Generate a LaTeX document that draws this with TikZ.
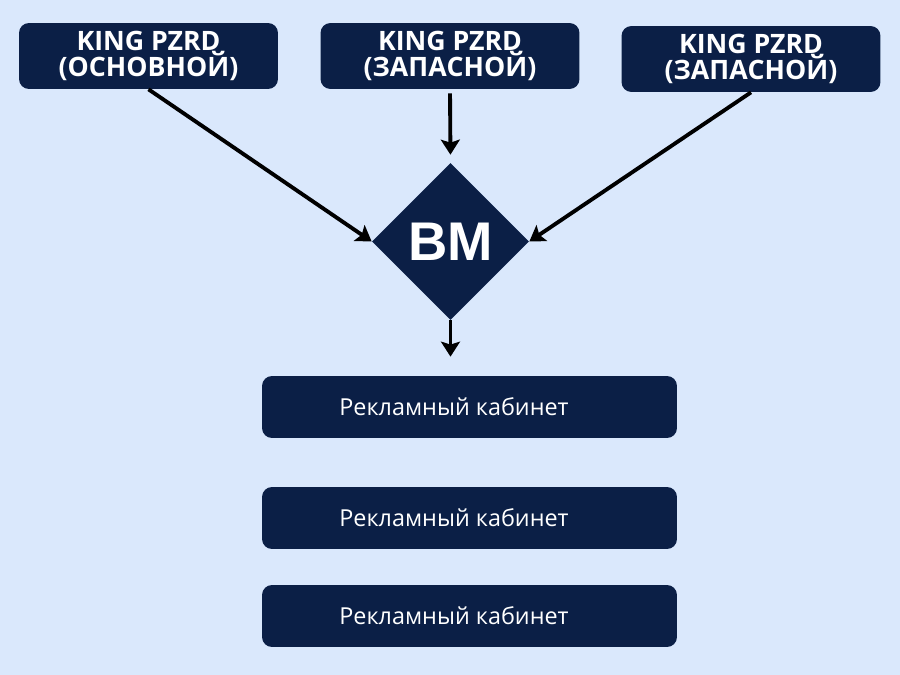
\documentclass[tikz,border=0pt]{standalone}
\usepackage{fontspec}
\setmainfont{Open Sans}
\newfontfamily\bmfont{Liberation Sans}
\usetikzlibrary{arrows.meta,shapes.geometric}
\definecolor{bgblue}{HTML}{DAE8FC}
\definecolor{navy}{HTML}{0B1F46}

\begin{document}
\begin{tikzpicture}[x=0.02cm,y=-0.02cm,
    kingbox/.style={fill=navy,rounded corners=0.2cm,minimum width=5.18cm,
      minimum height=1.32cm,inner sep=0pt,align=center,text=white,
      font=\bfseries\fontsize{15.2}{14.8}\selectfont},
    cabbox/.style={fill=navy,rounded corners=0.2cm,minimum width=8.3cm,
      minimum height=1.24cm,inner sep=0pt,text=white,
      font=\fontsize{13.3}{16}\selectfont},
    bmnode/.style={diamond,fill=navy,aspect=1,minimum width=3.14cm,
      minimum height=3.14cm,inner sep=0pt,text=white,
      font=\bmfont\bfseries\fontsize{31}{34}\selectfont},
    arr/.style={-{Stealth[length=0.3cm,width=0.38cm,inset=0.06cm]},
      line width=2.2pt,black}]
  \useasboundingbox[fill=bgblue] (0,0) rectangle (900,675);

  \node[kingbox] (kmain) at (148.5,56) {KING PZRD\\(ОСНОВНОЙ)};
  \node[kingbox] (kres1) at (450,56) {KING PZRD\\(ЗАПАСНОЙ)};
  \node[kingbox] (kres2) at (751,59) {KING PZRD\\(ЗАПАСНОЙ)};

  \node[bmnode] (bm) at (450.5,241.5) {BM};

  \node[cabbox] (cab1) at (469.5,407) {Рекламный кабинет\hspace*{0.62cm}\null};
  \node[cabbox] (cab2) at (469.5,518) {Рекламный кабинет\hspace*{0.62cm}\null};
  \node[cabbox] (cab3) at (469.5,616) {Рекламный кабинет\hspace*{0.62cm}\null};

  % arrows into BM
  \draw[arr] (kmain.south) -- (bm.west);
  \draw[arr,shorten <=0.08cm,shorten >=0.16cm] (kres1.south) -- (bm.north);
  \draw[arr] (kres2.south) -- (bm.east);
  % BM to cabinets
  \draw[arr,shorten >=0.38cm] (bm.south) -- (bm.south |- cab1.north);
\end{tikzpicture}
\end{document}
